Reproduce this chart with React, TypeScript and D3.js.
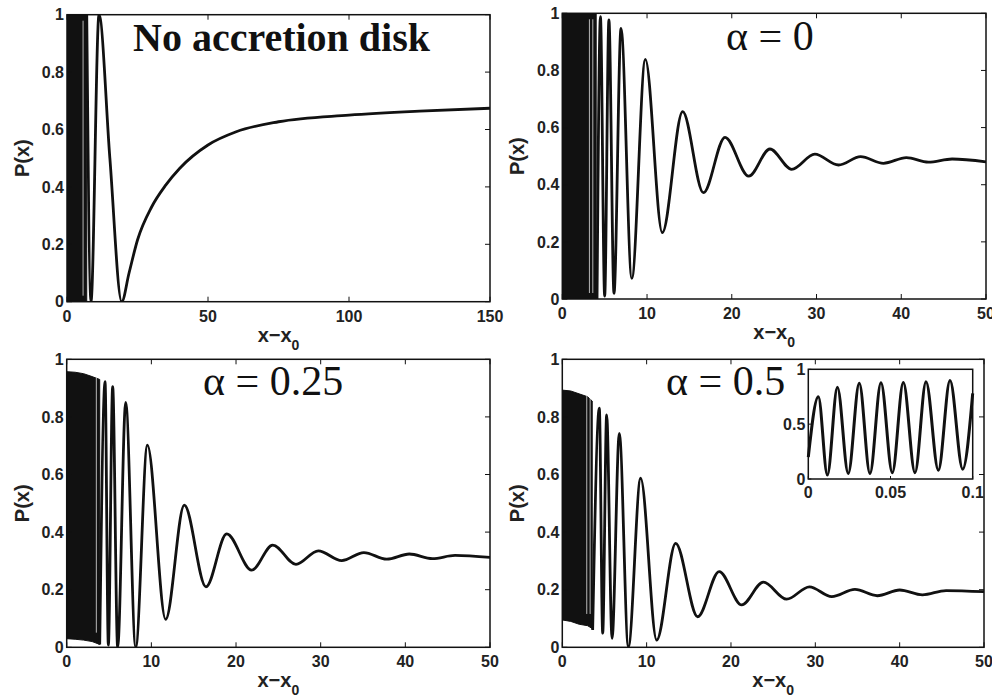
import React from "react";
import * as d3 from "d3";

// values: extrema of P(x) after the dense band
const noDiskX = [7.0, 8.5, 11.35, 15.2, 19.4, 22, 25, 30, 35, 40, 50, 60, 75, 100, 125, 150];
const noDiskP = [1.0, 0.0, 1.0, 0.5, 0.0, 0.1, 0.215, 0.33, 0.406, 0.465, 0.546, 0.592, 0.627, 0.65, 0.664, 0.674];

const alpha0X = [4.1, 4.5, 5.0, 5.5, 6.1, 6.93, 8.2, 9.8, 11.8, 14.2, 16.65, 19.2, 22.0, 24.5, 27.07, 29.8, 32.6, 35.2, 37.9, 40.6, 43.2, 46.0, 50];
const alpha0P = [0.0, 0.988, 0.01, 0.977, 0.02, 0.947, 0.072, 0.839, 0.232, 0.656, 0.372, 0.566, 0.43, 0.525, 0.454, 0.507, 0.469, 0.498, 0.475, 0.495, 0.479, 0.49, 0.48];

const alpha025X = [3.9, 4.53, 4.92, 5.43, 6.02, 6.97, 8.15, 9.53, 11.69, 13.89, 16.45, 18.9, 21.85, 24.33, 27.08, 29.72, 32.48, 35.1, 37.8, 40.47, 43.2, 45.87, 50];
const alpha025P = [0.01, 0.922, 0.008, 0.905, 0.0, 0.85, 0.0, 0.702, 0.097, 0.494, 0.21, 0.394, 0.268, 0.355, 0.288, 0.335, 0.301, 0.329, 0.306, 0.324, 0.308, 0.319, 0.312];

const alpha05X = [3.6, 4.39, 4.79, 5.26, 5.9, 6.76, 7.83, 9.29, 11.19, 13.44, 16.05, 18.6, 21.27, 23.84, 26.6, 29.3, 31.95, 34.7, 37.35, 40.0, 42.7, 45.5, 50];
const alpha05P = [0.06, 0.83, 0.049, 0.807, 0.031, 0.743, 0.002, 0.587, 0.025, 0.361, 0.106, 0.263, 0.147, 0.226, 0.167, 0.21, 0.176, 0.201, 0.179, 0.199, 0.182, 0.197, 0.193];

const insetX = [0, 0.0061, 0.0116, 0.0177, 0.0243, 0.031, 0.0375, 0.0442, 0.0511, 0.0578, 0.0649, 0.0716, 0.0791, 0.0862, 0.0939, 0.1];
const insetP = [0.2, 0.75, 0.036, 0.836, 0.05, 0.872, 0.05, 0.878, 0.058, 0.88, 0.058, 0.887, 0.08, 0.897, 0.09, 0.78];

// dense, unresolved oscillation near x0 drawn as a filled band
const noDiskBandX = [0, 7.0];
const noDiskBandTop = [1, 1];
const noDiskBandBottom = [0, 0];
const alpha0BandX = [0, 4.0];
const alpha0BandTop = [1, 1];
const alpha0BandBottom = [0, 0];
const alpha025BandX = [0, 1, 2, 3, 3.9];
const alpha025BandTop = [0.957, 0.955, 0.95, 0.94, 0.93];
const alpha025BandBottom = [0.03, 0.028, 0.025, 0.02, 0.01];
const alpha05BandX = [0, 1, 2, 3, 3.55];
const alpha05BandTop = [0.893, 0.89, 0.88, 0.87, 0.855];
const alpha05BandBottom = [0.095, 0.09, 0.08, 0.075, 0.065];

const noDiskGaps = [5.7];
const alpha0Gaps = [3.2, 3.6];
const alpha025Gaps = [3.5];
const alpha05Gaps = [2.9, 3.3];

const xTicksWide = [0, 50, 100, 150];
const xTicksNarrow = [0, 10, 20, 30, 40, 50];
const yTicks = [0, 0.2, 0.4, 0.6, 0.8, 1];
const yTickLabels = ["0", "0.2", "0.4", "0.6", "0.8", "1"];
const insetXTicks = [0, 0.05, 0.1];
const insetXTickLabels = ["0", "0.05", "0.1"];
const insetYTicks = [0, 0.5, 1];
const insetYTickLabels = ["0", "0.5", "1"];

const sans = "'Liberation Sans', Arial, Helvetica, sans-serif";
const serif = "'Liberation Serif', 'Times New Roman', serif";

function Panel(props) {
  const { id, x0, y0, x1, y1, xMax, xTicks, bandX, bandTop, bandBottom, gaps, cx, cp, title, tx, ty, titleBold } = props;
  const x = d3.scaleLinear().domain([0, xMax]).range([x0, x1]);
  const y = d3.scaleLinear().domain([0, 1]).range([y1, y0]);

  const line = d3
    .line<number>()
    .x((d, i) => x(cx[i]))
    .y((d) => y(d))
    .curve(d3.curveMonotoneX);

  const area = d3
    .area<number>()
    .x((d, i) => x(bandX[i]))
    .y0((d, i) => y(bandBottom[i]))
    .y1((d) => y(d));

  const tick = 5;

  return (
    <g>
      <defs>
        <clipPath id={id}>
          <rect x={x0} y={y0} width={x1 - x0} height={y1 - y0} />
        </clipPath>
      </defs>
      <rect x={x0} y={y0} width={x1 - x0} height={y1 - y0} fill="white" />
      <g clipPath={`url(#${id})`}>
        <path d={area(bandTop) || ""} fill="#111" stroke="#111" strokeWidth={1} />
        {gaps.map((g, i) => (
          <line key={i} x1={x(g)} x2={x(g)} y1={y(bandTop[0]) + 6} y2={y(bandBottom[0]) - 6} stroke="white" strokeOpacity={0.7} strokeWidth={1} />
        ))}
        <path d={line(cp) || ""} fill="none" stroke="#111" strokeWidth={2.8} strokeLinejoin="round" />
      </g>
      {/* ticks, MATLAB style: inward on all four sides */}
      {xTicks.map((t) => (
        <g key={"x" + t}>
          <line x1={x(t)} x2={x(t)} y1={y1} y2={y1 - tick} stroke="#111" />
          <line x1={x(t)} x2={x(t)} y1={y0} y2={y0 + tick} stroke="#111" />
          <text x={x(t)} y={y1 + 20} textAnchor="middle" fontFamily={sans} fontWeight="bold" fontSize={16} fill="#222">
            {t}
          </text>
        </g>
      ))}
      {yTicks.map((t, i) => (
        <g key={"y" + t}>
          <line x1={x0} x2={x0 + tick} y1={y(t)} y2={y(t)} stroke="#111" />
          <line x1={x1} x2={x1 - tick} y1={y(t)} y2={y(t)} stroke="#111" />
          <text x={x0 - 3} y={y(t)} dy="0.36em" textAnchor="end" fontFamily={sans} fontWeight="bold" fontSize={16} fill="#222">
            {yTickLabels[i]}
          </text>
        </g>
      ))}
      <rect x={x0} y={y0} width={x1 - x0} height={y1 - y0} fill="none" stroke="#111" strokeWidth={1.5} />
      <text
        transform={`translate(${x0 - 38},${(y0 + y1) / 2}) rotate(-90)`}
        textAnchor="middle"
        fontFamily={sans}
        fontWeight="bold"
        fontSize={20}
        fill="#222"
      >
        P(x)
      </text>
      <text x={(x0 + x1) / 2} y={y1 + 40} textAnchor="middle" fontFamily={sans} fontWeight="bold" fontSize={20} fill="#222">
        x−x
        <tspan fontSize={14} dy={8}>
          0
        </tspan>
      </text>
      <text x={tx} y={ty} fontFamily={serif} fontWeight={titleBold ? "bold" : "normal"} fontSize={titleBold ? 40 : 42} fill="#111">
        {title}
      </text>
      {props.children}
    </g>
  );
}

function Inset({ x0, y0, x1, y1 }) {
  const x = d3.scaleLinear().domain([0, 0.1]).range([x0, x1]);
  const y = d3.scaleLinear().domain([0, 1]).range([y1, y0]);
  const line = d3
    .line<number>()
    .x((d, i) => x(insetX[i]))
    .y((d) => y(d))
    .curve(d3.curveMonotoneX);
  return (
    <g>
      <rect x={x0} y={y0} width={x1 - x0} height={y1 - y0} fill="white" />
      <path d={line(insetP) || ""} fill="none" stroke="#111" strokeWidth={3} />
      {insetXTicks.map((t, i) => (
        <g key={"ix" + t}>
          <line x1={x(t)} x2={x(t)} y1={y1} y2={y1 - 3} stroke="#111" />
          <text x={x(t)} y={y1 + 19} textAnchor="middle" fontFamily={sans} fontWeight="bold" fontSize={16} fill="#222">
            {insetXTickLabels[i]}
          </text>
        </g>
      ))}
      {insetYTicks.map((t, i) => (
        <g key={"iy" + t}>
          <line x1={x0} x2={x0 + 3} y1={y(t)} y2={y(t)} stroke="#111" />
          <text x={x0 - 3} y={y(t)} dy="0.36em" textAnchor="end" fontFamily={sans} fontWeight="bold" fontSize={16} fill="#222">
            {insetYTickLabels[i]}
          </text>
        </g>
      ))}
      <rect x={x0} y={y0} width={x1 - x0} height={y1 - y0} fill="none" stroke="#111" strokeWidth={1.5} />
    </g>
  );
}

export default function App() {
  return (
    <div style={{ position: "absolute", left: 0, top: 0, width: 992, height: 697, background: "white" }}>
      <svg width={992} height={697} style={{ display: "block" }}>
        <rect width={992} height={697} fill="white" />
        <Panel
          id="p1"
          x0={67} y0={14.7} x1={490} y1={301.7}
          xMax={150} xTicks={xTicksWide}
          bandX={noDiskBandX} bandTop={noDiskBandTop} bandBottom={noDiskBandBottom} gaps={noDiskGaps}
          cx={noDiskX} cp={noDiskP}
          title="No accretion disk" tx={133} ty={51} titleBold
        />
        <Panel
          id="p2"
          x0={562.3} y0={13.3} x1={986} y1={299}
          xMax={50} xTicks={xTicksNarrow}
          bandX={alpha0BandX} bandTop={alpha0BandTop} bandBottom={alpha0BandBottom} gaps={alpha0Gaps}
          cx={alpha0X} cp={alpha0P}
          title="α = 0" tx={726} ty={50}
        />
        <Panel
          id="p3"
          x0={66.7} y0={359.3} x1={490} y1={647.3}
          xMax={50} xTicks={xTicksNarrow}
          bandX={alpha025BandX} bandTop={alpha025BandTop} bandBottom={alpha025BandBottom} gaps={alpha025Gaps}
          cx={alpha025X} cp={alpha025P}
          title="α = 0.25" tx={203} ty={395}
        />
        <Panel
          id="p4"
          x0={562.3} y0={359.3} x1={984} y1={647.3}
          xMax={50} xTicks={xTicksNarrow}
          bandX={alpha05BandX} bandTop={alpha05BandTop} bandBottom={alpha05BandBottom} gaps={alpha05Gaps}
          cx={alpha05X} cp={alpha05P}
          title="α = 0.5" tx={666} ty={395}
        >
          <Inset x0={808.3} y0={369.3} x1={972.7} y1={479} />
        </Panel>
      </svg>
    </div>
  );
}
